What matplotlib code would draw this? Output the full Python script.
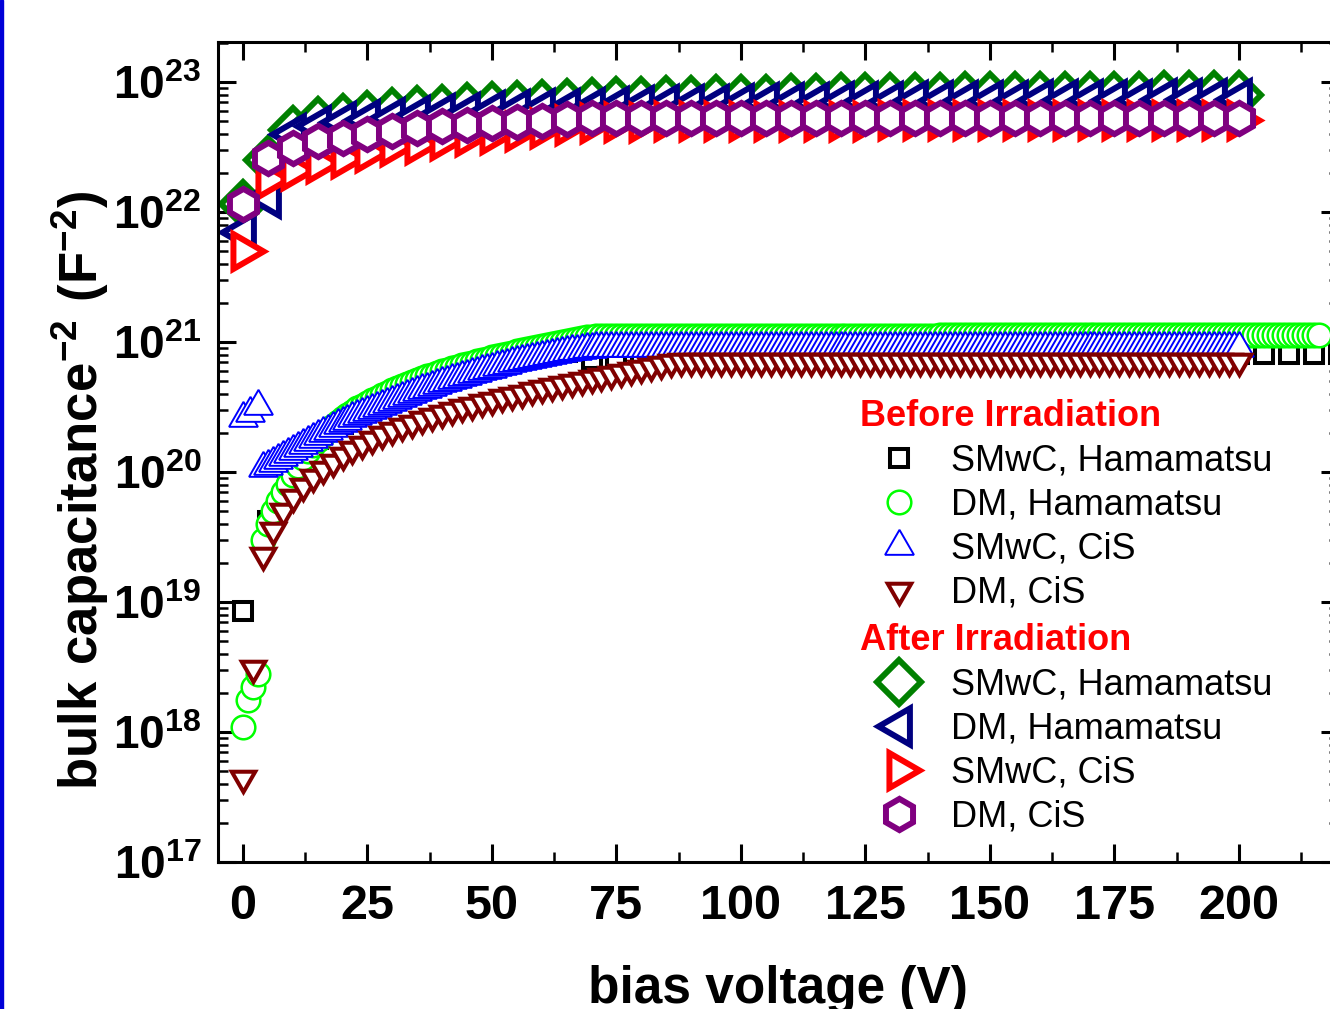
import numpy as np
import matplotlib
matplotlib.use('Agg')
import matplotlib.pyplot as plt
from matplotlib import font_manager
from matplotlib.patches import Rectangle
from matplotlib.ticker import FixedLocator, LogLocator, NullFormatter, FuncFormatter

# --- before irradiation, values in units of 1e20 F^-2 ---
smwc_ham_x = list(range(0, 221, 5))
smwc_ham_y = [0.085, 0.42, 1.3, 1.8, 2.35, 3.0, 3.65, 4.4, 5.1, 5.9,
              6.7, 7.5, 8.2, 8.4, 7.4, 7.1, 7.3, 7.8, 8.0,
              8.05, 8.05, 8.05, 8.05, 8.05, 8.05, 8.05, 8.05, 8.05, 8.05,
              8.05, 8.05, 8.05, 8.05, 8.05, 8.05, 8.05, 8.05, 8.05, 8.05,
              8.05, 8.05, 8.05, 8.05, 8.05, 8.05]

dm_ham_x = list(range(0, 217))
dm_ham_y = [0.011, 0.0175, 0.022, 0.028, 0.30, 0.40, 0.50, 0.60, 0.70, 0.81,
            0.95, 1.11, 1.28, 1.44, 1.60, 1.77, 1.93, 2.10, 2.26, 2.42,
            2.59, 2.75, 2.91, 3.08, 3.24, 3.40, 3.57, 3.74, 3.91, 4.08,
            4.25, 4.41, 4.58, 4.75, 4.92, 5.09, 5.26, 5.43, 5.60, 5.77,
            5.94, 6.10, 6.27, 6.44, 6.61, 6.78, 6.95, 7.12, 7.29, 7.46,
            7.63, 7.79, 7.96, 8.13, 8.30, 8.47, 8.64, 8.81, 8.98, 9.15,
            9.32, 9.48, 9.65, 9.82, 9.99, 10.16, 10.33, 10.50, 10.67, 10.84,
            11.0, 11.1, 11.15, 11.2, 11.2, 11.2, 11.2, 11.2, 11.2, 11.2,
            11.2, 11.2, 11.2, 11.2, 11.2, 11.2, 11.2, 11.2, 11.2, 11.2,
            11.2, 11.2, 11.2, 11.2, 11.2, 11.2, 11.2, 11.2, 11.2, 11.2,
            11.2, 11.2, 11.2, 11.2, 11.2, 11.2, 11.2, 11.2, 11.2, 11.2,
            11.2, 11.2, 11.2, 11.2, 11.2, 11.2, 11.2, 11.2, 11.2, 11.2,
            11.2, 11.2, 11.2, 11.2, 11.2, 11.2, 11.2, 11.2, 11.2, 11.2,
            11.2, 11.2, 11.2, 11.2, 11.2, 11.2, 11.2, 11.2, 11.2, 11.2,
            11.3, 11.3, 11.3, 11.3, 11.3, 11.3, 11.3, 11.3, 11.3, 11.3,
            11.3, 11.3, 11.3, 11.3, 11.3, 11.3, 11.3, 11.3, 11.3, 11.3,
            11.3, 11.3, 11.3, 11.3, 11.3, 11.3, 11.3, 11.3, 11.3, 11.3,
            11.3, 11.3, 11.3, 11.3, 11.3, 11.3, 11.3, 11.3, 11.3, 11.3,
            11.3, 11.3, 11.3, 11.3, 11.3, 11.3, 11.3, 11.3, 11.3, 11.3,
            11.3, 11.3, 11.3, 11.3, 11.3, 11.3, 11.3, 11.3, 11.3, 11.3,
            11.3, 11.3, 11.3, 11.3, 11.3, 11.3, 11.3, 11.3, 11.3, 11.3,
            11.3, 11.3, 11.3, 11.3, 11.3, 11.3, 11.3]

smwc_cis_x = [0, 1.5, 3] + list(range(4, 201))
smwc_cis_y = [2.6, 2.85, 3.2,
              1.07, 1.12, 1.17, 1.23, 1.30, 1.37,
              1.45, 1.53, 1.61, 1.70, 1.79, 1.88, 1.98, 2.08, 2.18, 2.28,
              2.38, 2.48, 2.58, 2.68, 2.78, 2.88, 2.99, 3.10, 3.21, 3.33,
              3.45, 3.58, 3.71, 3.84, 3.97, 4.10, 4.24, 4.38, 4.52, 4.66,
              4.80, 4.94, 5.08, 5.22, 5.36, 5.50, 5.65, 5.80, 5.95, 6.10,
              6.25, 6.40, 6.55, 6.70, 6.85, 7.00, 7.14, 7.28, 7.42, 7.56,
              7.70, 7.83, 7.96, 8.09, 8.22, 8.35, 8.47, 8.59, 8.70, 8.80,
              8.88, 8.94, 9.0, 9.0, 9.0, 9.0, 9.0, 9.0, 9.0, 9.0,
              9.0, 9.0, 9.0, 9.0, 9.0, 9.0, 9.0, 9.0, 9.0, 9.0,
              9.0, 9.0, 9.0, 9.0, 9.0, 9.0, 9.0, 9.0, 9.0, 9.0,
              9.0, 9.0, 9.0, 9.0, 9.0, 9.0, 9.0, 9.0, 9.0, 9.0,
              9.0, 9.0, 9.0, 9.0, 9.0, 9.0, 9.0, 9.0, 9.0, 9.0,
              9.0, 9.0, 9.0, 9.0, 9.0, 9.0, 9.0, 9.0, 9.0, 9.0,
              9.0, 9.0, 9.0, 9.0, 9.0, 9.0, 9.0, 9.0, 9.0, 9.0,
              9.0, 9.0, 9.0, 9.0, 9.0, 9.0, 9.0, 9.0, 9.0, 9.0,
              9.0, 9.0, 9.0, 9.0, 9.0, 9.0, 9.0, 9.0, 9.0, 9.0,
              9.0, 9.0, 9.0, 9.0, 9.0, 9.0, 9.0, 9.0, 9.0, 9.0,
              9.0, 9.0, 9.0, 9.0, 9.0, 9.0, 9.0, 9.0, 9.0, 9.0,
              9.0, 9.0, 9.0, 9.0, 9.0, 9.0, 9.0, 9.0, 9.0, 9.0,
              9.0, 9.0, 9.0, 9.0, 9.0, 9.0, 9.0, 9.0, 9.0, 9.0,
              9.0]

dm_cis_x = list(range(0, 201, 2))
dm_cis_y = [0.0044, 0.031, 0.23, 0.36, 0.50, 0.64, 0.78, 0.92, 1.05, 1.2,
            1.35, 1.5, 1.65, 1.8, 1.95, 2.1, 2.25, 2.4, 2.55, 2.7,
            2.85, 3.0, 3.15, 3.3, 3.45, 3.6, 3.76, 3.92, 4.08, 4.24,
            4.4, 4.57, 4.74, 4.91, 5.08, 5.25, 5.45, 5.65, 5.85, 6.05,
            6.3, 6.55, 6.8, 7.0, 7.15, 7.2,
            7.2, 7.2, 7.2, 7.2, 7.2, 7.2, 7.2, 7.2, 7.2, 7.2,
            7.2, 7.2, 7.2, 7.2, 7.2, 7.2, 7.2, 7.2, 7.2, 7.2,
            7.2, 7.2, 7.2, 7.2, 7.2, 7.2, 7.2, 7.2, 7.2, 7.2,
            7.2, 7.2, 7.2, 7.2, 7.2, 7.2, 7.2, 7.2, 7.2, 7.2,
            7.2, 7.2, 7.2, 7.2, 7.2, 7.2, 7.2, 7.2, 7.2, 7.2,
            7.2, 7.2, 7.2, 7.2, 7.2]

# --- after irradiation, values in units of 1e22 F^-2 ---
irr_x = list(range(0, 201, 5))
irr_smwc_ham = [1.15, 2.5, 4.3, 5.0, 5.3, 5.6, 5.85, 6.05, 6.25, 6.4,
                6.55, 6.7, 6.8, 6.9, 7.0, 7.1, 7.2, 7.25, 7.3, 7.35,
                7.4, 7.45, 7.5, 7.55, 7.6, 7.6, 7.65, 7.7, 7.7, 7.75,
                7.75, 7.8, 7.8, 7.8, 7.85, 7.85, 7.85, 7.9, 7.9, 7.9, 7.9]
irr_dm_ham = [0.70, 1.3, 4.0, 4.6, 4.9, 5.1, 5.3, 5.5, 5.65, 5.8,
              5.95, 6.05, 6.15, 6.25, 6.35, 6.45, 6.55, 6.6, 6.65, 6.7,
              6.8, 6.85, 6.9, 6.95, 7.0, 7.0, 7.05, 7.1, 7.1, 7.15,
              7.2, 7.2, 7.25, 7.25, 7.3, 7.3, 7.3, 7.35, 7.35, 7.4, 7.4]
irr_smwc_cis = [0.50, 1.8, 2.1, 2.4, 2.6, 2.9, 3.2, 3.35, 3.6, 3.85,
                3.95, 4.2, 4.45, 4.7, 4.85, 4.9, 4.95, 5.0, 5.0, 5.0,
                5.0, 5.05, 5.05, 5.05, 5.05, 5.05, 5.1, 5.1, 5.1, 5.1,
                5.1, 5.1, 5.1, 5.1, 5.1, 5.1, 5.1, 5.1, 5.1, 5.1, 5.1]
irr_dm_cis = [1.15, 2.6, 3.1, 3.5, 3.7, 3.95, 4.2, 4.4, 4.6, 4.7,
              4.8, 4.9, 5.05, 5.15, 5.25, 5.25, 5.3, 5.3, 5.3, 5.3,
              5.3, 5.3, 5.3, 5.3, 5.3, 5.3, 5.3, 5.3, 5.3, 5.3,
              5.3, 5.3, 5.3, 5.3, 5.3, 5.3, 5.3, 5.3, 5.3, 5.3, 5.3]

labels = ['SMwC, Hamamatsu', 'DM, Hamamatsu', 'SMwC, CiS', 'DM, CiS']

names = {f.name for f in font_manager.fontManager.ttflist}
narrow = 'Liberation Sans Narrow' if 'Liberation Sans Narrow' in names else 'Liberation Sans'
ylab_size = 40 if narrow == 'Liberation Sans Narrow' else 38

plt.rcParams['font.family'] = ['Liberation Sans', 'DejaVu Sans']
plt.rcParams['mathtext.fontset'] = 'custom'
plt.rcParams['mathtext.bf'] = 'Liberation Sans:bold'
plt.rcParams['mathtext.rm'] = 'Liberation Sans'
plt.rcParams['mathtext.sf'] = narrow + ':bold'

W, H = 1330, 1009
fig = plt.figure(figsize=(W / 100, H / 100), dpi=100)
ax = fig.add_axes([218 / W, 147 / H, (1338.5 - 218) / W, (862 - 42) / H])

# before irradiation (thin markers)
before = [
    (smwc_ham_x, smwc_ham_y, dict(marker='s', ms=13, mew=2.9, mec='black')),
    (dm_ham_x, dm_ham_y, dict(marker='o', ms=17, mew=1.8, mec='#00ff00')),
    (smwc_cis_x, smwc_cis_y, dict(marker=(3, 0, 0), ms=24, mew=1.4, mec='#0000ff')),
    (dm_cis_x, dm_cis_y, dict(marker=(3, 0, 180), ms=19.5, mew=2.9, mec='#800000')),
]
h_before = []
for (x, y, st), lab in zip(before, labels):
    ln, = ax.plot(x, np.array(y) * 1e20, ls='none', mfc='white', label=lab, **st)
    h_before.append(ln)

# after irradiation (thick markers)
after = [
    (irr_smwc_ham, dict(marker='D', ms=22, mew=4.3, mec='#008000')),
    (irr_dm_ham, dict(marker=(3, 0, 90), ms=30, mew=4.3, mec='#000080')),
    (irr_smwc_cis, dict(marker=(3, 0, 270), ms=29, mew=4.3, mec='#ff0000')),
    (irr_dm_cis, dict(marker='h', ms=22.5, mew=4.3, mec='#800080')),
]
h_after = []
for (y, st), lab in zip(after, labels):
    ln, = ax.plot(irr_x, np.array(y) * 1e22, ls='none', mfc='white', label=lab, **st)
    h_after.append(ln)

ax.set_xlim(-5, 220)
ax.set_yscale('log')
ax.set_ylim(1e17, 2.03e23)

ax.xaxis.set_major_locator(FixedLocator(list(range(0, 201, 25))))
ax.xaxis.set_minor_locator(FixedLocator([v + 12.5 for v in range(-25, 226, 25)]))
ax.yaxis.set_major_locator(LogLocator(base=10, numticks=20))
ax.yaxis.set_minor_locator(LogLocator(base=10, subs=range(2, 10), numticks=20))
ax.yaxis.set_minor_formatter(NullFormatter())
ax.yaxis.set_major_formatter(FuncFormatter(
    lambda v, p: r'$\mathbf{10^{%d}}$' % int(round(np.log10(v)))))

ax.tick_params(which='both', direction='in', top=True, right=True)
ax.tick_params(which='major', length=13, width=2.2)
ax.tick_params(axis='x', which='major', pad=16, labelsize=35)
ax.tick_params(axis='y', which='major', pad=12, labelsize=33)
ax.tick_params(which='minor', length=7, width=1.8)
for t in ax.get_xticklabels():
    t.set_fontweight('bold')
for s in ax.spines.values():
    s.set_linewidth(2.2)

fig.text(80 / W, 1 - 490 / H, r'$\mathsf{bulk\ capacitance^{-2}\ (F^{-2})}$',
         rotation=90, ha='center', va='center', fontsize=ylab_size)
fig.text(778 / W, 6 / H, 'bias voltage (V)', ha='center', va='baseline',
         fontsize=37, fontweight='bold')

leg_kw = dict(loc='upper left', frameon=False, borderpad=0, borderaxespad=0,
              handlelength=2.18, handletextpad=0.34, labelspacing=0.255,
              numpoints=1, alignment='left',
              prop={'family': 'Liberation Sans', 'size': 26},
              title_fontproperties={'family': 'Liberation Sans', 'size': 26,
                                    'weight': 'bold'})
leg1 = fig.legend(handles=h_before, labels=labels, title='Before Irradiation',
                  bbox_to_anchor=(860 / W, 1 - 399 / H), **leg_kw)
leg2 = fig.legend(handles=h_after, labels=labels, title='After Irradiation',
                  bbox_to_anchor=(860 / W, 1 - 623 / H), **leg_kw)
for lg in (leg1, leg2):
    lg.get_title().set_color('#ff0000')

# slide border strip on the left
fig.patches.append(Rectangle((0, 0), 3 / W, 1, transform=fig.transFigure,
                             color='#0000d8', zorder=5))

fig.savefig('out.png', dpi=100)
